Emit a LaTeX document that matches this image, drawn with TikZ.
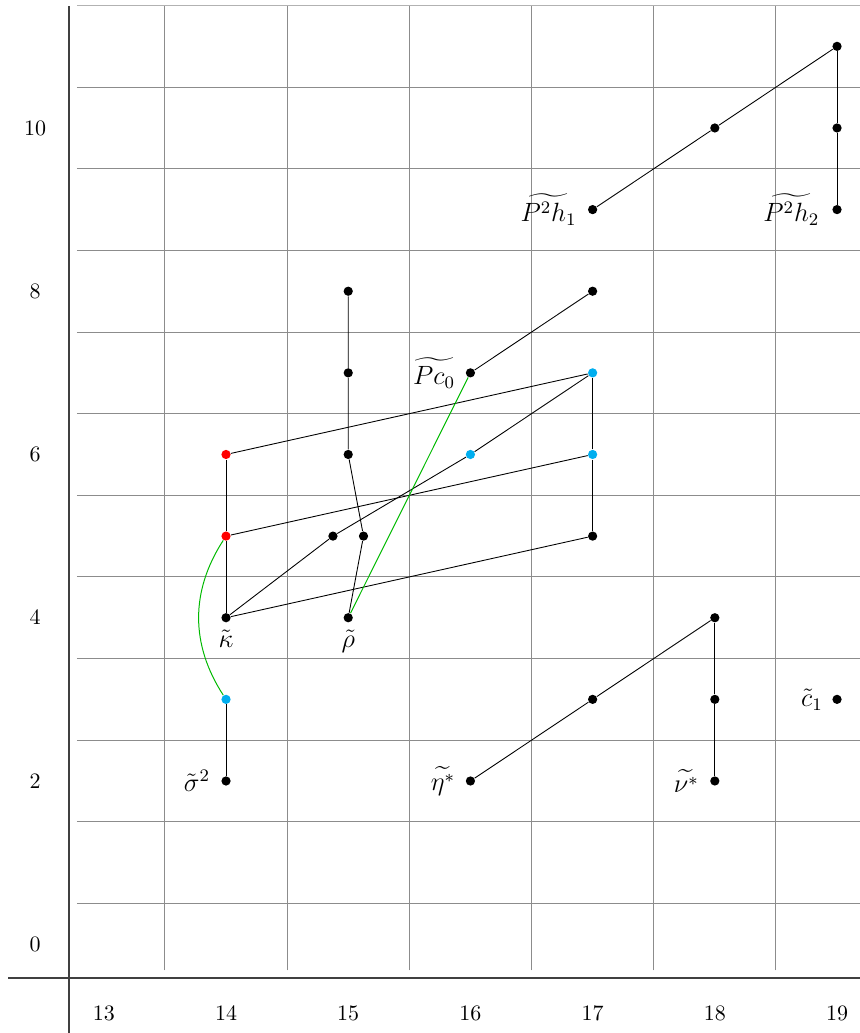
\documentclass[tikz,border=0pt]{standalone}
\usepackage{amsmath}
\usetikzlibrary{positioning}
\definecolor{dotcyan}{RGB}{0,174,239}
\definecolor{linegreen}{RGB}{0,185,0}
\begin{document}
\begin{tikzpicture}[x=55.545pt,y=37.102pt,
  dot/.style={circle,fill=black,inner sep=0pt,minimum size=4.2pt},
  reddot/.style={dot,fill=red},
  cyandot/.style={dot,fill=dotcyan},
  gridline/.style={black!45,line width=0.45pt},
  axisline/.style={black!75,line width=0.6pt},
  lab/.style={inner sep=0pt,font=\large},
  diff/.style={linegreen,line width=0.45pt}]
\useasboundingbox (12.1506,-1.0873) rectangle (19.188,11.568);
% grid
\foreach \x in {13.5,14.5,...,18.5} \draw[gridline] (\x,-0.32) -- (\x,11.5);
\foreach \y in {0.5,1.5,...,10.5} \draw[gridline] (12.78,\y) -- (19.188,\y);
\draw[black!30,line width=0.45pt] (12.78,11.5) -- (19.188,11.5);
% axes
\draw[axisline] (12.715,-1.0873) -- (12.715,11.5);
\draw[axisline] (12.216,-0.413) -- (19.188,-0.413);
\foreach \x in {13,...,19} \node (xl\x) at (\x,-0.842) {$\x$};
\foreach \y in {0,2,...,10} \node (yl\y) at (12.437,\y) {$\y$};
% dots
\node[dot] (s2) at (14,2) {};
\node[cyandot] (a143) at (14,3) {};
\node[dot] (k) at (14,4) {};
\node[reddot] (a145) at (14,5) {};
\node[reddot] (a146) at (14,6) {};
\node[dot] (r) at (15,4) {};
\node[dot] (a155l) at (14.875,5) {};
\node[dot] (a155r) at (15.125,5) {};
\node[dot] (a156) at (15,6) {};
\node[dot] (a157) at (15,7) {};
\node[dot] (a158) at (15,8) {};
\node[dot] (eta) at (16,2) {};
\node[cyandot] (a166) at (16,6) {};
\node[dot] (pc0) at (16,7) {};
\node[dot] (a173) at (17,3) {};
\node[dot] (a175) at (17,5) {};
\node[cyandot] (a176) at (17,6) {};
\node[cyandot] (a177) at (17,7) {};
\node[dot] (a178) at (17,8) {};
\node[dot] (p2h1) at (17,9) {};
\node[dot] (nu) at (18,2) {};
\node[dot] (a183) at (18,3) {};
\node[dot] (a184) at (18,4) {};
\node[dot] (a1810) at (18,10) {};
\node[dot] (c1) at (19,3) {};
\node[dot] (p2h2) at (19,9) {};
\node[dot] (a1910) at (19,10) {};
\node[dot] (a1911) at (19,11) {};
% labels
\node[lab,left=4.8pt of s2] (s2l) {$\tilde{\sigma}^2$};
\node[lab,below=3pt of k] (kl) {$\tilde{\kappa}$};
\node[lab,below=3pt of r] (rl) {$\tilde{\rho}$};
\node[lab,left=4.5pt of pc0] (pc0l) {$\widetilde{Pc_0}$};
\node[lab,left=4.5pt of eta] (etal) {$\widetilde{\eta^*}$};
\node[lab,left=4.8pt of nu] (nul) {$\widetilde{\nu^*}$};
\node[lab,left=4pt of c1] (c1l) {$\tilde{c}_1$};
\node[lab,left=4.8pt of p2h1] (p2h1l) {$\widetilde{P^2h_1}$};
\node[lab,left=5.5pt of p2h2] (p2h2l) {$\widetilde{P^2h_2}$};
% edges
\draw (s2) -- (a143);
\draw (k) -- (a145) -- (a146);
\draw (k) -- (a155l) -- (a166) -- (a177);
\draw (k) -- (a175);
\draw (a145) -- (a176);
\draw (a146) -- (a177);
\draw (r) -- (a155r) -- (a156) -- (a157) -- (a158);
\draw (a175) -- (a176) -- (a177);
\draw (pc0) -- (a178);
\draw (eta) -- (a173) -- (a184);
\draw (nu) -- (a183) -- (a184);
\draw (p2h1) -- (a1810) -- (a1911);
\draw (p2h2) -- (a1910) -- (a1911);
% differentials
\draw[diff] (a145) to[bend right=33] (a143);
\draw[diff] (r) -- (pc0);
\end{tikzpicture}
\end{document}
